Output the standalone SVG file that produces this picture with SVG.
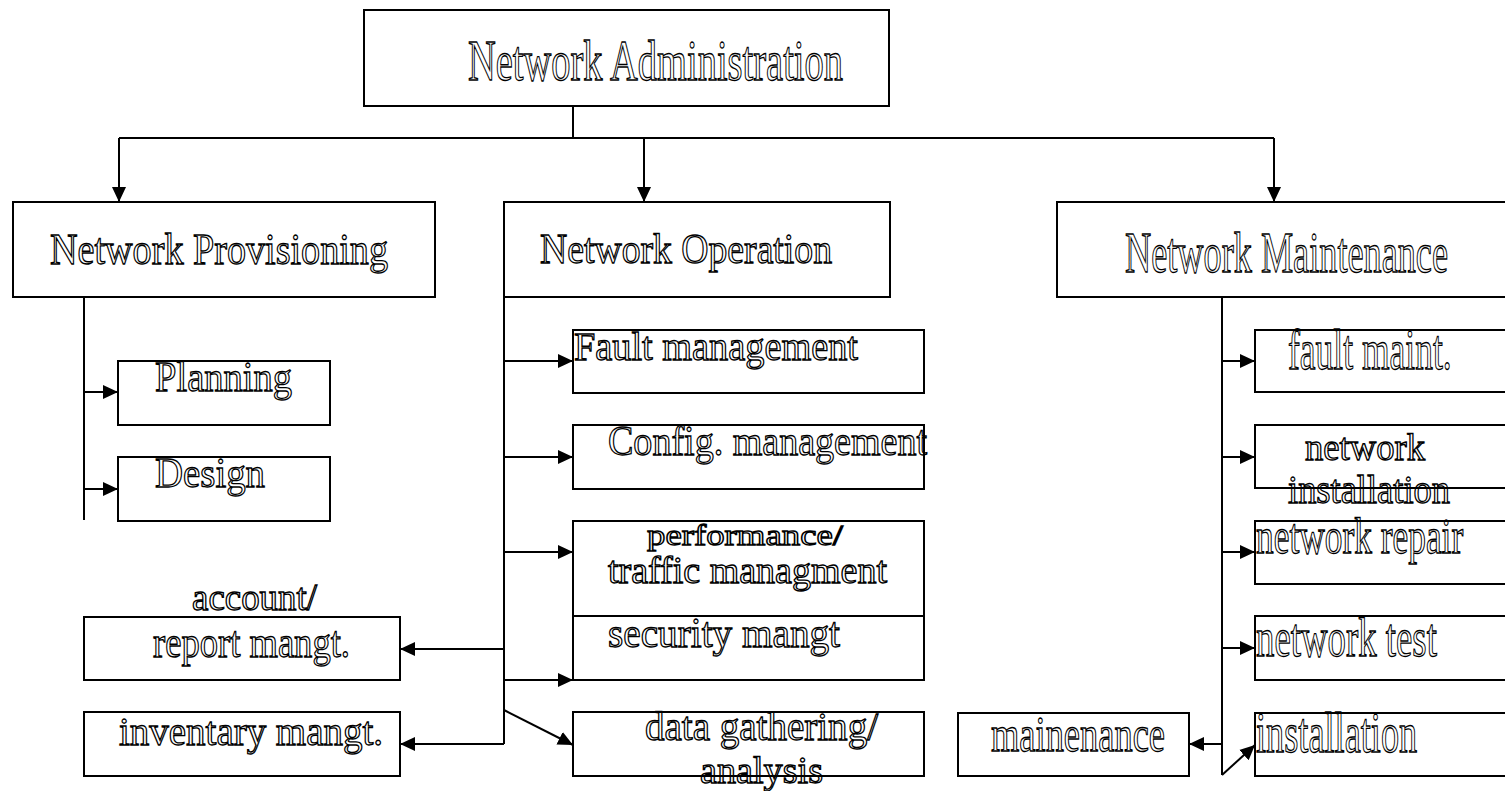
<svg xmlns="http://www.w3.org/2000/svg" width="1505" height="791" viewBox="0 0 1505 791">
<style>
.b{fill:none;stroke:#000;stroke-width:2}
.t{font-family:"Liberation Serif","Times New Roman",serif;fill:#fff;stroke:#000;stroke-width:1.3}
.c{fill:none;stroke:#000;stroke-width:2}
.a{fill:none;stroke:#000;stroke-width:2;marker-end:url(#ah)}
</style>
<defs>
<marker id="ah" markerUnits="userSpaceOnUse" markerWidth="16" markerHeight="15" refX="15" refY="7" orient="auto" viewBox="0 0 16 14">
<path d="M0,0 L15,7 L0,14 z" fill="#000"/>
</marker>
</defs>
<rect width="1505" height="791" fill="#fff"/>
<g id="connectors">
<path class="c" d="M573,106 V138 M119,138 H1274"/>
<path class="a" d="M119,138 V202"/>
<path class="a" d="M644,138 V202"/>
<path class="a" d="M1274,138 V202"/>
<path class="c" d="M84,297 V520"/>
<path class="a" d="M84,392 H118"/>
<path class="a" d="M84,489 H118"/>
<path class="c" d="M504,297 V744"/>
<path class="a" d="M504,361 H573"/>
<path class="a" d="M504,457 H573"/>
<path class="a" d="M504,552 H573"/>
<path class="a" d="M504,680 H573"/>
<path class="a" d="M504,710 L573,745"/>
<path class="a" d="M504,649 H400"/>
<path class="a" d="M504,744 H400"/>
<path class="c" d="M1222,297 V775"/>
<path class="a" d="M1222,361 H1255"/>
<path class="a" d="M1222,457 H1255"/>
<path class="a" d="M1222,552 H1255"/>
<path class="a" d="M1222,648 H1255"/>
<path class="a" d="M1222,775 L1255,745"/>
<path class="a" d="M1222,744 H1189"/>
</g>
<g id="n-admin"><text class="t" x="468" y="80" font-size="56" textLength="375" lengthAdjust="spacingAndGlyphs">Network Administration</text><rect class="b" x="364" y="10" width="525" height="96"/></g>
<g id="n-prov"><text class="t" x="50" y="264" font-size="44" textLength="338" lengthAdjust="spacingAndGlyphs">Network Provisioning</text><rect class="b" x="13" y="202" width="422" height="95"/></g>
<g id="n-oper"><text class="t" x="540" y="263" font-size="43" textLength="292" lengthAdjust="spacingAndGlyphs">Network Operation</text><rect class="b" x="504" y="202" width="386" height="95"/></g>
<g id="n-maint"><text class="t" transform="matrix(0.65 0 0 1 1125 272)" font-size="56" textLength="497" lengthAdjust="spacingAndGlyphs">Network Maintenance</text><rect class="b" x="1057" y="202" width="460" height="95"/></g>
<g id="n-planning"><text class="t" x="155" y="391" font-size="43" textLength="137" lengthAdjust="spacingAndGlyphs">Planning</text><rect class="b" x="118" y="361" width="212" height="64"/></g>
<g id="n-design"><text class="t" x="155" y="487" font-size="43" textLength="110" lengthAdjust="spacingAndGlyphs">Design</text><rect class="b" x="118" y="457" width="212" height="64"/></g>
<g id="n-fault"><text class="t" x="574" y="360" font-size="41" textLength="284" lengthAdjust="spacingAndGlyphs">Fault management</text><rect class="b" x="573" y="330" width="351" height="63"/></g>
<g id="n-config"><text class="t" x="608" y="455" font-size="43" textLength="319" lengthAdjust="spacingAndGlyphs">Config. management</text><rect class="b" x="573" y="425" width="351" height="64"/></g>
<g id="n-perf"><text class="t" x="647" y="545" font-size="30" textLength="196" lengthAdjust="spacingAndGlyphs">performance/</text><text class="t" x="608" y="583" font-size="37" textLength="279" lengthAdjust="spacingAndGlyphs">traffic managment</text><rect class="b" x="573" y="521" width="351" height="95"/></g>
<g id="n-security"><text class="t" x="608" y="647" font-size="42" textLength="232" lengthAdjust="spacingAndGlyphs">security mangt</text><rect class="b" x="573" y="616" width="351" height="64"/></g>
<g id="n-data"><text class="t" x="645" y="740" font-size="41" textLength="233" lengthAdjust="spacingAndGlyphs">data gathering/</text><text class="t" x="700" y="783" font-size="37" textLength="123" lengthAdjust="spacingAndGlyphs">analysis</text><rect class="b" x="573" y="712" width="351" height="64"/></g>
<g id="n-account"><text class="t" x="192" y="610" font-size="37" textLength="125" lengthAdjust="spacingAndGlyphs">account/</text><text class="t" x="153" y="657" font-size="44" textLength="197" lengthAdjust="spacingAndGlyphs">report mangt.</text><rect class="b" x="84" y="617" width="316" height="63"/></g>
<g id="n-inventary"><text class="t" x="119" y="745" font-size="41" textLength="264" lengthAdjust="spacingAndGlyphs">inventary mangt.</text><rect class="b" x="84" y="712" width="316" height="64"/></g>
<g id="n-faultmaint"><text class="t" transform="matrix(0.62 0 0 1 1288 369)" font-size="57" textLength="264" lengthAdjust="spacingAndGlyphs">fault maint.</text><rect class="b" x="1255" y="330" width="262" height="62"/></g>
<g id="n-netinstall"><text class="t" x="1305" y="460" font-size="37" textLength="120" lengthAdjust="spacingAndGlyphs">network</text><text class="t" transform="matrix(0.9 0 0 1 1288 503)" font-size="40" textLength="180" lengthAdjust="spacingAndGlyphs">installation</text><rect class="b" x="1255" y="425" width="262" height="63"/></g>
<g id="n-netrepair"><text class="t" transform="matrix(0.7 0 0 1 1256 553)" font-size="50" textLength="296" lengthAdjust="spacingAndGlyphs">network repair</text><rect class="b" x="1255" y="521" width="262" height="63"/></g>
<g id="n-nettest"><text class="t" transform="matrix(0.67 0 0 1 1256 656)" font-size="55" textLength="270" lengthAdjust="spacingAndGlyphs">network test</text><rect class="b" x="1255" y="616" width="262" height="64"/></g>
<g id="n-installation"><text class="t" transform="matrix(0.65 0 0 1 1256 752)" font-size="56" textLength="248" lengthAdjust="spacingAndGlyphs">installation</text><rect class="b" x="1255" y="713" width="262" height="63"/></g>
<g id="n-mainenance"><text class="t" x="991" y="751" font-size="50" textLength="174" lengthAdjust="spacingAndGlyphs">mainenance</text><rect class="b" x="958" y="713" width="231" height="63"/></g>
</svg>
